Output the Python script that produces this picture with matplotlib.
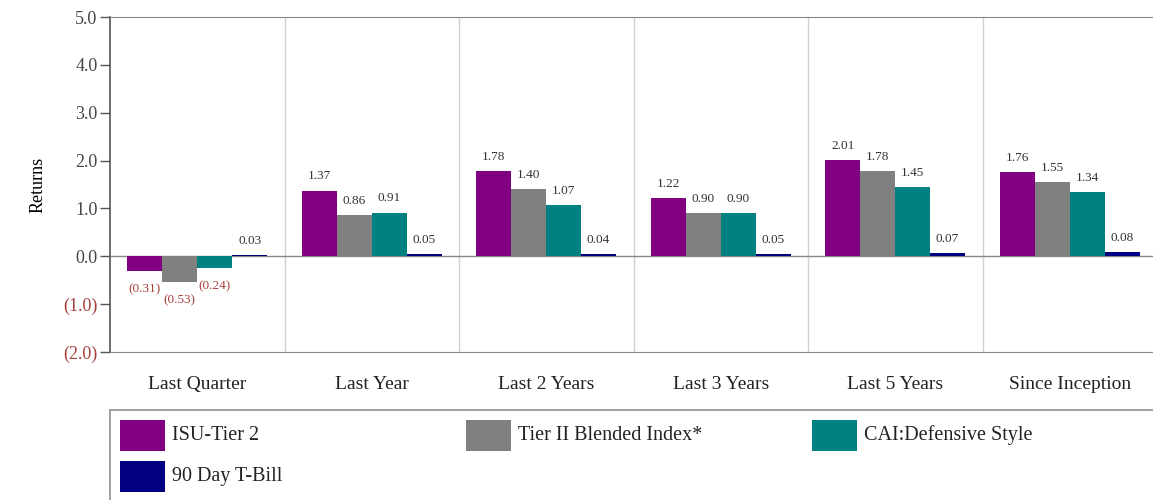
"""
Returns by period, grouped bars with a boxed legend below
"""
import matplotlib.pyplot as plt
from matplotlib.patches import Rectangle
import numpy as np

plt.rcParams['font.family'] = ['Liberation Serif', 'DejaVu Serif']
plt.rcParams['font.size'] = 12

# data
periods = ['Last Quarter', 'Last Year', 'Last 2 Years', 'Last 3 Years',
           'Last 5 Years', 'Since Inception']
series = ['ISU-Tier 2', 'Tier II Blended Index*', 'CAI:Defensive Style',
          '90 Day T-Bill']
isu_tier2 = [-0.31, 1.37, 1.78, 1.22, 2.01, 1.76]
blended = [-0.53, 0.86, 1.40, 0.90, 1.78, 1.55]
defensive = [-0.24, 0.91, 1.07, 0.90, 1.45, 1.34]
tbill = [0.03, 0.05, 0.04, 0.05, 0.07, 0.08]
colors = ['#800080', '#808080', '#008080', '#000080']

NEG = '#a8403a'


def fmt(v, digits):
    if v < 0:
        return f'({abs(v):.{digits}f})'
    return f'{v:.{digits}f}'


def create_figure():
    fig = plt.figure(figsize=(11.53, 5.0), dpi=100)
    W, H = 1153, 500
    ax = fig.add_axes([110 / W, 148 / H, 1047 / W, 335 / H])

    values = [isu_tier2, blended, defensive, tbill]
    x = np.arange(len(periods))
    bw = 0.2
    for i, (vals, c) in enumerate(zip(values, colors)):
        pos = x - 0.3 + i * bw
        ax.bar(pos, vals, width=bw, color=c, edgecolor='none', zorder=3)
        for p, v in zip(pos, vals):
            if v >= 0:
                ax.annotate(fmt(v, 2), (p, v), xytext=(0, 6),
                            textcoords='offset points', ha='center',
                            va='bottom', fontsize=9.5, color='#333333')
            else:
                ax.annotate(fmt(v, 2), (p, v), xytext=(0, -9),
                            textcoords='offset points', ha='center',
                            va='top', fontsize=9.5, color=NEG)

    ax.set_xlim(-0.5, len(periods) - 0.5)
    ax.set_ylim(-2.0, 5.0)
    ticks = np.arange(-2.0, 5.01, 1.0)
    ax.set_yticks(ticks)
    ax.set_yticklabels([fmt(t, 1) for t in ticks], fontsize=13)
    for lab, t in zip(ax.get_yticklabels(), ticks):
        lab.set_color(NEG if t < 0 else '#444444')
    ax.tick_params(axis='y', length=7, width=1, color='#555555', pad=2)

    ax.set_xticks(x)
    ax.set_xticklabels(periods, fontsize=14, color='#222222')
    ax.tick_params(axis='x', length=0, pad=17)

    for b in x[:-1] + 0.5:
        ax.axvline(b, color='#d0d0d0', lw=1, zorder=1)
    ax.axhline(0, color='#888888', lw=1, zorder=2)

    for s in ['top', 'bottom']:
        ax.spines[s].set_color('#888888')
    ax.spines['left'].set_color('#555555')
    ax.spines['left'].set_linewidth(1.2)
    ax.spines['right'].set_visible(False)

    ax.set_ylabel('Returns', fontsize=13, labelpad=12)

    # legend box
    lax = fig.add_axes([110 / W, 0, 1043 / W, 90 / H])
    lax.set_xlim(0, 1043)
    lax.set_ylim(90, 0)
    lax.set_xticks([])
    lax.set_yticks([])
    for s in lax.spines.values():
        s.set_color('#999999')
        s.set_linewidth(1.3)
    lax.spines['right'].set_visible(False)
    lax.spines['bottom'].set_visible(False)
    for i, (name, c) in enumerate(zip(series, colors)):
        col, row = i % 3, i // 3
        x0 = 10 + col * 346
        y0 = 10 + row * 41
        lax.add_patch(Rectangle((x0, y0), 45, 31, facecolor=c,
                                edgecolor='none'))
        lax.text(x0 + 52, y0 + 15, name, va='center', ha='left',
                 fontsize=14.5, color='#222222')

    plt.savefig('out.png', dpi=100)
    plt.close()


if __name__ == "__main__":
    create_figure()
